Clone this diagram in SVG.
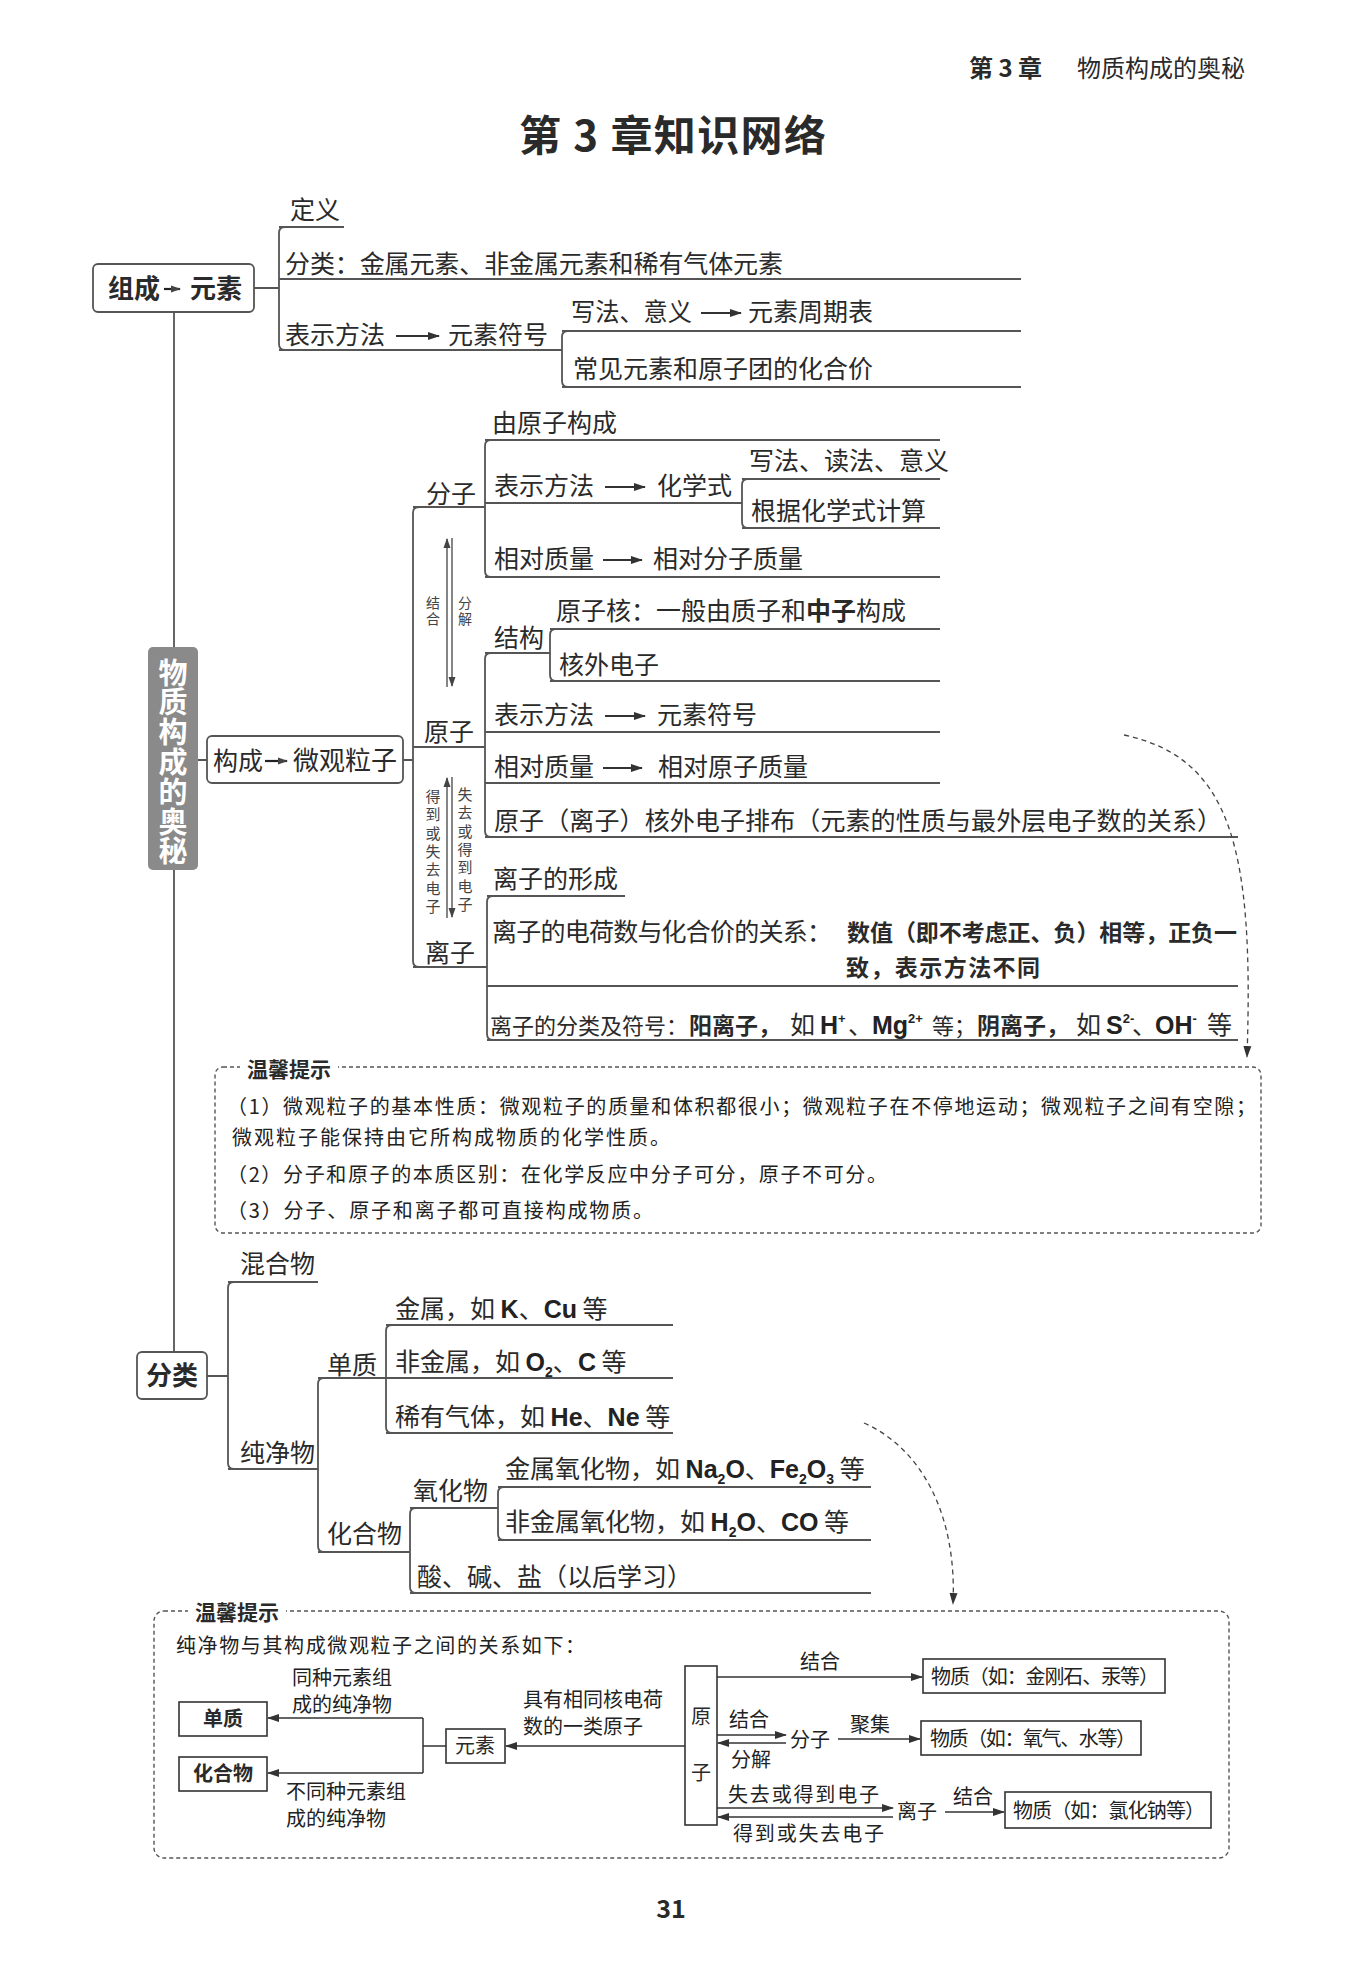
<svg xmlns="http://www.w3.org/2000/svg" width="1350" height="1969" viewBox="0 0 1350 1969">
<defs>
<style>
text{font-family:'Noto Sans CJK SC','Noto Sans',sans-serif;fill:#2a2a2a}
.t{font-size:25px}
.b{font-weight:bold}
.lat{font-family:'Liberation Sans',Arial,sans-serif;font-weight:bold;fill:#222}
.kai{font-weight:bold;font-size:23px}
.v{fill:#444;writing-mode:vertical-rl}
.tip{font-size:20px;fill:#222}
.ln{fill:none;stroke:#555;stroke-width:1.8}
.box{fill:#fff;stroke:#555;stroke-width:1.8}
.bx2{fill:#fff;stroke:#333;stroke-width:1.6}
.dash{fill:none;stroke:#555;stroke-width:1.4;stroke-dasharray:4 3}
.ar{fill:none;stroke:#333;stroke-width:1.8;marker-end:url(#ah)}
.ar2{fill:none;stroke:#444;stroke-width:1.3;marker-end:url(#ah2)}
.ar3{fill:none;stroke:#333;stroke-width:1.5;marker-end:url(#ah3)}
.arD{fill:none;stroke:#444;stroke-width:1.3;stroke-dasharray:5 4;marker-end:url(#ah3)}
</style>
<marker id="ah" markerUnits="userSpaceOnUse" markerWidth="12" markerHeight="10" refX="11" refY="5" orient="auto"><path d="M0,1 L12,5 L0,9 z" fill="#333"/></marker>
<marker id="ah2" markerUnits="userSpaceOnUse" markerWidth="10" markerHeight="8" refX="9" refY="4" orient="auto"><path d="M0,0.5 L10,4 L0,7.5 z" fill="#444"/></marker>
<marker id="ah3" markerUnits="userSpaceOnUse" markerWidth="12" markerHeight="10" refX="11" refY="5" orient="auto"><path d="M0,1 L12,5 L0,9 z" fill="#333"/></marker>
</defs>
<rect x="0" y="0" width="1350" height="1969" fill="#fff"/>

<g id="header">
<text x="969" y="77" font-size="24" class="b">第 3 章</text>
<text x="1077" y="77" font-size="24">物质构成的奥秘</text>
</g>
<g id="title"><text x="519" y="151" font-size="42" class="b" textLength="307" lengthAdjust="spacing">第 3 章知识网络</text></g>

<g id="connectors">
<!-- spine -->
<path class="ln" d="M174 312 V647 M174 870 V1352"/>
<!-- section 1 -->
<path class="ln" d="M254 288 H279 M285 227 Q279 227 279 233 V344 Q279 350 285 350 M279 227 H344 M279 279 H1021 M279 350 H562 M568 331 Q562 331 562 337 V381 Q562 387 568 387 M562 331 H1021 M562 387 H1021"/>
<path class="ar" d="M396 336 H439"/>
<path class="ar" d="M701 313 H741"/>
<!-- section 2 -->
<path class="ln" d="M198 760 H207 M403 760 H413 M419 507 Q413 507 413 513 V961 Q413 967 419 967 M413 507 H485"/>
<path class="ln" d="M491 440 Q485 440 485 446 V571 Q485 577 491 577 M485 440 H940 M485 503 H742 M485 577 H940 M748 479 Q742 479 742 485 V522 Q742 528 748 528 M742 479 H940 M742 528 H940"/>
<path class="ln" d="M413 747 H485 M491 653 Q485 653 485 659 V831 Q485 837 491 837 M485 653 H550 M485 732 H940 M485 783 H940 M485 837 H1238 M556 629 Q550 629 550 635 V675 Q550 681 556 681 M550 629 H940 M550 681 H940"/>
<path class="ln" d="M413 967 H487 M493 896 Q487 896 487 902 V1034 Q487 1040 493 1040 M487 896 H625 M487 986 H1238 M487 1040 H1238"/>
<path class="ar" d="M605 487 H645"/>
<path class="ar" d="M603 560 H642"/>
<path class="ar" d="M605 716 H645"/>
<path class="ar" d="M603 768 H642"/>
<path class="ar2" d="M447 687 V539"/>
<path class="ar2" d="M452 538 V686"/>
<path class="ar2" d="M447 918 V778"/>
<path class="ar2" d="M452 777 V917"/>
<path class="arD" d="M1124 735 C1232 758 1254 850 1247 1057"/>
<!-- section 3 -->
<path class="ln" d="M207 1376 H228 M234 1282 Q228 1282 228 1288 V1463 Q228 1469 234 1469 M228 1282 H318 M228 1469 H318"/>
<path class="ln" d="M324 1378 Q318 1378 318 1384 V1546 Q318 1552 324 1552 M318 1378 H386 M318 1552 H410 M392 1325 Q386 1325 386 1331 V1427 Q386 1433 392 1433 M386 1325 H673 M386 1378 H673 M386 1433 H673"/>
<path class="ln" d="M416 1508 Q410 1508 410 1514 V1587 Q410 1593 416 1593 M410 1508 H498 M410 1593 H871 M504 1487 Q498 1487 498 1493 V1534 Q498 1540 504 1540 M498 1487 H871 M498 1540 H871"/>
<path class="arD" d="M864 1423 C925 1450 957 1520 953 1604"/>
<!-- tip 2 connectors -->
<path class="ln" style="stroke:#333;stroke-width:1.5" d="M446 1746 H423 M423 1718 V1773"/>
<path class="ar3" d="M423 1718 H268"/>
<path class="ar3" d="M423 1773 H268"/>
<path class="ar3" d="M685 1746 H506"/>
<path class="ar3" d="M717 1677 H922"/>
<path class="ar3" d="M717 1735 H786"/>
<path class="ar3" d="M786 1743 H718"/>
<path class="ar3" d="M838 1739 H920"/>
<path class="ar3" d="M717 1808 H893"/>
<path class="ar3" d="M893 1817 H718"/>
<path class="ar3" d="M945 1812 H1004"/>
</g>

<!-- section 1 nodes -->
<g id="n-zucheng">
<rect class="box" x="93" y="264" width="161" height="48" rx="5"/>
<text x="108" y="298" font-size="26" class="b">组成<tspan x="190">元素</tspan></text>
<path d="M164 289 H180" stroke="#222" stroke-width="2.2" marker-end="url(#ah2)" fill="none"/>
</g>
<g id="n-dingyi"><text class="t" x="290" y="219">定义</text></g>
<g id="n-fenlei1"><text class="t" x="285" y="273" textLength="498" lengthAdjust="spacing">分类：金属元素、非金属元素和稀有气体元素</text></g>
<g id="n-biaoshi1"><text class="t" x="285" y="344">表示方法<tspan x="448">元素符号</tspan></text></g>
<g id="n-xiefa1"><text class="t" x="571" y="321" textLength="121" lengthAdjust="spacingAndGlyphs">写法、意义</text><text class="t" x="748" y="321">元素周期表</text></g>
<g id="n-changjian"><text class="t" x="573" y="378">常见元素和原子团的化合价</text></g>

<!-- section 2 nodes -->
<g id="n-root">
<rect x="148" y="647" width="50" height="223" rx="5" fill="#8a8a8a"/>
<text x="173" y="658" font-size="29" class="b" style="fill:#fff;writing-mode:vertical-rl" letter-spacing="0.8">物质构成的奥秘</text>
</g>
<g id="n-goucheng">
<rect class="box" x="207" y="736" width="196" height="47" rx="5"/>
<text x="213" y="770" font-size="25">构成<tspan x="293" font-size="26">微观粒子</tspan></text>
<path d="M265 761 H287" stroke="#222" stroke-width="2.2" marker-end="url(#ah2)" fill="none"/>
</g>
<g id="n-fenzi"><text class="t" x="426" y="503">分子</text></g>
<g id="n-youyuanzi"><text class="t" x="492" y="432">由原子构成</text></g>
<g id="n-biaoshi2"><text class="t" x="494" y="495">表示方法<tspan x="657">化学式</tspan></text></g>
<g id="n-xiefa2"><text class="t" x="749" y="470">写法、读法、意义</text></g>
<g id="n-genju"><text class="t" x="751" y="520">根据化学式计算</text></g>
<g id="n-xiangdui1"><text class="t" x="494" y="568">相对质量<tspan x="653">相对分子质量</tspan></text></g>
<g id="n-jiehe-fenjie">
<text class="v" x="433" y="596" font-size="14" letter-spacing="1.5">结合</text>
<text class="v" x="465" y="596" font-size="14" letter-spacing="1.5">分解</text>
</g>
<g id="n-yuanzi"><text class="t" x="424" y="741">原子</text></g>
<g id="n-jiegou"><text class="t" x="494" y="647">结构</text></g>
<g id="n-yuanzihe"><text class="t" x="556" y="620">原子核：一般由质子和<tspan class="b">中子</tspan>构成</text></g>
<g id="n-hewai"><text class="t" x="559" y="674">核外电子</text></g>
<g id="n-biaoshi3"><text class="t" x="494" y="724">表示方法<tspan x="657">元素符号</tspan></text></g>
<g id="n-xiangdui2"><text class="t" x="494" y="776">相对质量<tspan x="658">相对原子质量</tspan></text></g>
<g id="n-paibu"><text class="t" x="494" y="830" textLength="728" lengthAdjust="spacing">原子（离子）核外电子排布（元素的性质与最外层电子数的关系）</text></g>
<g id="n-dedao-shiqu">
<text class="v" x="433" y="789" font-size="15" letter-spacing="3.3">得到或失去电子</text>
<text class="v" x="465" y="787" font-size="15" letter-spacing="3.3">失去或得到电子</text>
</g>
<g id="n-lizi"><text class="t" x="425" y="962">离子</text></g>
<g id="n-xingcheng"><text class="t" x="493" y="888">离子的形成</text></g>
<g id="n-dianhe">
<text class="t" x="492" y="941" textLength="340" lengthAdjust="spacing">离子的电荷数与化合价的关系：</text>
<text class="kai" x="847" y="941" textLength="390" lengthAdjust="spacing">数值（即不考虑正、负）相等，正负一</text>
<text class="kai" x="846" y="976" textLength="194" lengthAdjust="spacing">致，表示方法不同</text>
</g>
<g id="n-fenleifuhao">
<text x="490" y="1034" font-size="22">离子的分类及符号：</text>
<text class="t" x="689" y="1034"><tspan class="kai">阳离子，</tspan><tspan x="790">如</tspan><tspan x="820" class="lat">H<tspan font-size="13" dy="-11">+</tspan></tspan><tspan x="848" dy="11">、</tspan><tspan x="872" class="lat">Mg<tspan font-size="13" dy="-11">2+</tspan></tspan><tspan x="932" dy="11" font-size="22">等；</tspan><tspan x="977" class="kai">阴离子，</tspan><tspan x="1076">如</tspan><tspan x="1106" class="lat">S<tspan font-size="13" dy="-11">2-</tspan></tspan><tspan x="1132" dy="11">、</tspan><tspan x="1155" class="lat">OH<tspan font-size="13" dy="-11">-</tspan></tspan><tspan x="1207" dy="11">等</tspan></text>
</g>

<!-- tip 1 -->
<g id="tip1">
<rect class="dash" x="215" y="1067" width="1046" height="166" rx="8"/>
<rect x="240" y="1056" width="98" height="22" fill="#fff"/>
<text x="247" y="1077" font-size="21" class="b">温馨提示</text>
<text class="tip" x="227" y="1114" textLength="1029" lengthAdjust="spacing">（1）微观粒子的基本性质：微观粒子的质量和体积都很小；微观粒子在不停地运动；微观粒子之间有空隙；</text>
<text class="tip" x="232" y="1145" textLength="438" lengthAdjust="spacing">微观粒子能保持由它所构成物质的化学性质。</text>
<text class="tip" x="227" y="1182" textLength="660" lengthAdjust="spacing">（2）分子和原子的本质区别：在化学反应中分子可分，原子不可分。</text>
<text class="tip" x="227" y="1218" textLength="426" lengthAdjust="spacing">（3）分子、原子和离子都可直接构成物质。</text>
</g>

<!-- section 3 nodes -->
<g id="n-fenlei2">
<rect class="box" x="137" y="1352" width="70" height="47" rx="5"/>
<text x="172" y="1385" font-size="26" class="b" text-anchor="middle">分类</text>
</g>
<g id="n-hunhewu"><text class="t" x="240" y="1273">混合物</text></g>
<g id="n-chunjingwu"><text class="t" x="240" y="1462">纯净物</text></g>
<g id="n-danzhi"><text class="t" x="327" y="1374">单质</text></g>
<g id="n-jinshu"><text class="t" x="395" y="1318">金属，如 <tspan class="lat">K</tspan>、<tspan class="lat">Cu</tspan> 等</text></g>
<g id="n-feijinshu"><text class="t" x="395" y="1371">非金属，如 <tspan class="lat">O<tspan font-size="14" dy="6">2</tspan></tspan><tspan dy="-6">、</tspan><tspan class="lat">C</tspan> 等</text></g>
<g id="n-xiyou"><text class="t" x="395" y="1426">稀有气体，如 <tspan class="lat">He</tspan>、<tspan class="lat">Ne</tspan> 等</text></g>
<g id="n-huahewu"><text class="t" x="327" y="1543">化合物</text></g>
<g id="n-yanghuawu"><text class="t" x="413" y="1500">氧化物</text></g>
<g id="n-jinshuyang"><text class="t" x="505" y="1478">金属氧化物，如 <tspan class="lat">Na<tspan font-size="14" dy="6">2</tspan><tspan dy="-6">O</tspan></tspan>、<tspan class="lat">Fe<tspan font-size="14" dy="6">2</tspan><tspan dy="-6">O</tspan><tspan font-size="14" dy="6">3</tspan></tspan><tspan dy="-6"> 等</tspan></text></g>
<g id="n-feijinshuyang"><text class="t" x="505" y="1531">非金属氧化物，如 <tspan class="lat">H<tspan font-size="14" dy="6">2</tspan><tspan dy="-6">O</tspan></tspan>、<tspan class="lat">CO</tspan> 等</text></g>
<g id="n-suanjian"><text class="t" x="417" y="1586">酸、碱、盐（以后学习）</text></g>

<!-- tip 2 -->
<g id="tip2">
<rect class="dash" x="154" y="1611" width="1075" height="247" rx="10"/>
<rect x="188" y="1599" width="98" height="22" fill="#fff"/>
<text x="195" y="1620" font-size="21" class="b">温馨提示</text>
<text class="tip" x="176" y="1653" textLength="409" lengthAdjust="spacing">纯净物与其构成微观粒子之间的关系如下：</text>
</g>
<g id="t-danzhi"><rect class="bx2" x="179" y="1702" width="88" height="34"/><text x="223" y="1726" font-size="20" class="b" text-anchor="middle">单质</text></g>
<g id="t-huahewu"><rect class="bx2" x="179" y="1757" width="88" height="34"/><text x="223" y="1781" font-size="20" class="b" text-anchor="middle">化合物</text></g>
<g id="t-yuansu"><rect class="bx2" x="446" y="1729" width="59" height="34"/><text x="475" y="1753" font-size="20" text-anchor="middle">元素</text></g>
<g id="t-tongzhong"><text class="tip" x="292" y="1685" font-size="19">同种元素组<tspan x="292" y="1712">成的纯净物</tspan></text></g>
<g id="t-butong"><text class="tip" x="286" y="1799" font-size="19">不同种元素组<tspan x="286" y="1826">成的纯净物</tspan></text></g>
<g id="t-juyou"><text class="tip" x="523" y="1707" font-size="19">具有相同核电荷<tspan x="523" y="1734">数的一类原子</tspan></text></g>
<g id="t-yuanzi"><rect class="bx2" x="685" y="1666" width="32" height="159"/><text x="701" y="1724" font-size="20" text-anchor="middle">原<tspan x="701" y="1780">子</tspan></text></g>
<g id="t-lbl1"><text class="tip" x="800" y="1669" font-size="19">结合</text></g>
<g id="t-wuzhi1"><rect class="bx2" x="923" y="1659" width="242" height="34"/><text class="tip" x="931" y="1684" textLength="228" lengthAdjust="spacing">物质（如：金刚石、汞等）</text></g>
<g id="t-lbl2"><text class="tip" x="729" y="1727" font-size="19">结合</text><text class="tip" x="731" y="1767" font-size="19">分解</text></g>
<g id="t-fenzi"><text class="tip" x="790" y="1747">分子</text></g>
<g id="t-lbl3"><text class="tip" x="850" y="1732" font-size="19">聚集</text></g>
<g id="t-wuzhi2"><rect class="bx2" x="921" y="1721" width="220" height="34"/><text class="tip" x="930" y="1746" textLength="206" lengthAdjust="spacing">物质（如：氧气、水等）</text></g>
<g id="t-lbl4"><text class="tip" x="728" y="1802" font-size="19" textLength="151" lengthAdjust="spacing">失去或得到电子</text><text class="tip" x="733" y="1841" font-size="19" textLength="151" lengthAdjust="spacing">得到或失去电子</text></g>
<g id="t-lizi"><text class="tip" x="897" y="1819">离子</text></g>
<g id="t-lbl5"><text class="tip" x="953" y="1804" font-size="19">结合</text></g>
<g id="t-wuzhi3"><rect class="bx2" x="1005" y="1792" width="206" height="36"/><text class="tip" x="1013" y="1818" textLength="192" lengthAdjust="spacing">物质（如：氯化钠等）</text></g>

<g id="pagenum"><text x="671" y="1918" font-size="25" class="b" text-anchor="middle">31</text></g>
</svg>
